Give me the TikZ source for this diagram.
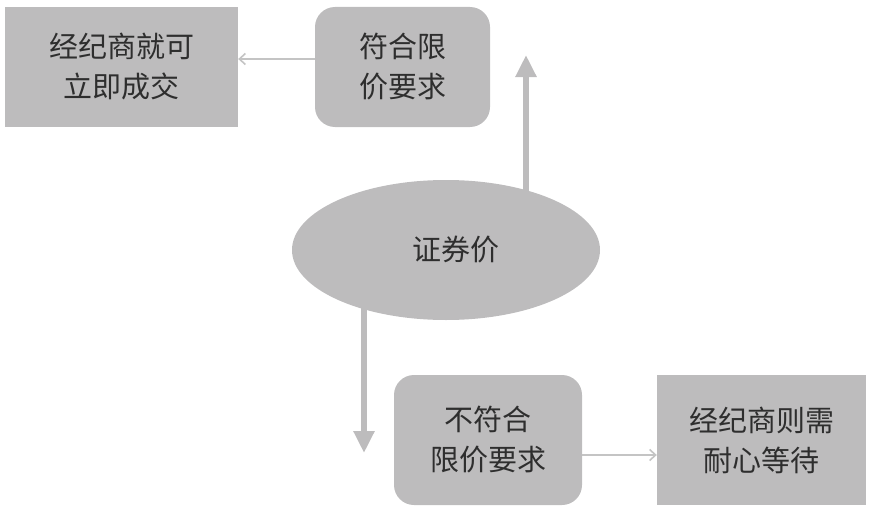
\documentclass[tikz,border=0pt]{standalone}
\usepackage{fontspec}
\newfontfamily\cjk{Noto Sans CJK SC}
\usetikzlibrary{arrows.meta,shapes.geometric}
\definecolor{boxgray}{HTML}{BDBCBD}
\definecolor{linegray}{HTML}{C4C4C4}
\definecolor{txtgray}{HTML}{2E2E2E}
\begin{document}
\begin{tikzpicture}[x=1pt,y=-1pt,
  every node/.style={font=\cjk\fontsize{29}{40}\selectfont, text=txtgray, align=center, inner sep=0pt},
  sqbox/.style={fill=boxgray, minimum width=#1},
  rbox/.style={fill=boxgray, rounded corners=20pt, minimum width=#1},
  thinarrow/.style={draw=linegray, line width=1.6pt, -{Straight Barb[length=6pt,width=11pt,line width=1.6pt]}},
  thickarrow/.style={draw=boxgray, line width=6pt, -{Triangle[length=22pt,width=20pt]}}
]
\useasboundingbox (0,0) rectangle (872,511);
\node[sqbox=233pt, minimum height=120pt] (A) at (121.5,67) {经纪商就可\\立即成交};
\node[rbox=175pt, minimum height=120pt] (B) at (402.5,67) {符合限\\价要求};
\node[ellipse, fill=boxgray, minimum width=308pt, minimum height=140pt] (E) at (446,250) {\hspace{20pt}证券价};
\node[rbox=188pt, minimum height=130pt] (C) at (488,440) {不符合\\限价要求};
\node[sqbox=209pt, minimum height=130pt] (D) at (761.5,440) {经纪商则需\\耐心等待};
\coordinate (up) at (526,55);
\coordinate (down) at (364,453);
\draw[thinarrow] ([yshift=8pt]B.west) -- ([yshift=8pt]A.east);
\draw[thinarrow] ([yshift=-15pt]C.east) -- ([yshift=-15pt]D.west);
\draw[thickarrow] (E.center -| up) -- (up);
\draw[thickarrow] (E.center -| down) -- (down);
\end{tikzpicture}
\end{document}
